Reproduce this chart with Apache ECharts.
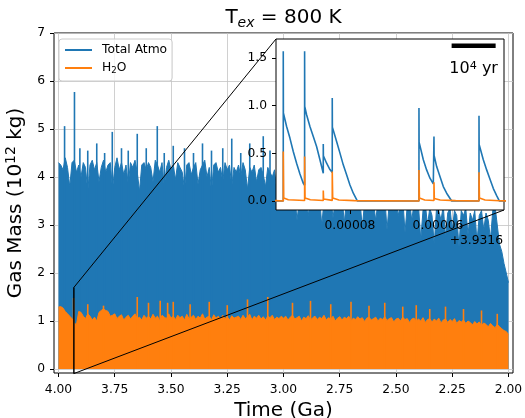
<!DOCTYPE html>
<html><head><meta charset="utf-8">
<script src="https://cdn.jsdelivr.net/npm/echarts@6/dist/echarts.min.js"></script>
<style>html,body{margin:0;padding:0;background:#fff}#c{width:525px;height:418px}</style>
</head><body><div id="c"></div>
<script>
const FONT = 'DejaVu Sans';
const BLUE = '#1f77b4', ORANGE = '#ff7f0e';

// ---- main panel: sample times (Ga), every 0.01 Ga from 4.00 to 2.00
const mainTimes = [];
for (let i = 0; i <= 200; i++) mainTimes.push(+(4 - 0.01 * i).toFixed(2));

// upper envelope of Total Atmo (1e12 kg)
const atmoTop = [
 4.3,4.25,4.15,4.4,4.2,3.8,4.3,4.35,4.1,4.25, 4.0,4.3,4.2,3.7,4.25,4.35,4.15,4.3,3.9,4.2,
 4.35,4.1,4.25,4.3,3.75,4.2,4.4,4.15,4.3,4.05, 4.25,3.85,4.3,4.2,4.35,4.1,3.7,4.25,4.3,4.15,
 4.3,4.2,3.9,4.35,4.25,4.1,4.3,3.8,4.2,4.35, 4.15,4.25,3.95,4.3,4.2,4.1,3.75,4.25,4.3,4.05,
 4.2,4.3,3.85,4.15,4.25,4.35,4.0,4.2,3.7,4.25, 4.3,4.1,4.2,3.9,4.3,4.15,4.25,3.8,4.2,4.1,
 4.25,4.0,4.3,4.15,3.75,4.2,4.1,4.25,3.9,4.15, 4.2,4.05,3.8,4.2,4.1,4.0,4.15,3.7,4.05,3.9,
 3.6,3.4,3.7,3.3,3.55,3.65,3.1,3.5,3.6,3.45, 3.7,3.2,3.55,3.5,3.65,3.3,3.6,3.0,3.5,3.55,
 3.4,3.6,3.15,3.5,3.55,3.45,3.6,3.05,3.5,3.4, 3.55,3.25,3.6,3.45,3.5,2.95,3.45,3.55,3.3,3.5,
 3.45,3.1,3.5,3.55,3.35,3.6,2.9,3.45,3.5,3.3, 3.5,3.2,3.45,3.55,2.85,3.4,3.5,3.1,3.45,3.3,
 3.4,2.7,3.3,3.45,3.0,3.35,3.2,2.6,3.35,3.3, 3.1,3.4,2.75,3.25,3.35,2.9,3.3,3.2,2.55,3.3,
 3.2,3.35,2.8,3.25,3.1,3.3,2.65,3.2,3.3,2.9, 3.25,3.1,2.7,3.3,3.4,3.0,2.6,2.45,2.2,2.0,1.8
];
// upper envelope of H2O
const h2oTop = [
 1.29,1.3,1.27,1.2,1.15,1.1,1.05,0.95,0.93,1.2, 1.18,1.1,1.05,1.15,1.1,1.02,1.08,1.0,1.18,1.22,
 1.25,1.22,1.2,1.1,1.12,1.15,1.05,1.1,1.13,1.02, 1.08,1.12,1.04,1.1,1.15,1.05,1.08,1.02,1.12,1.06,
 1.1,1.04,1.14,1.06,1.1,1.0,1.12,1.08,1.05,1.15, 1.06,1.1,1.03,1.12,1.07,1.1,1.02,1.14,1.05,1.08,
 1.12,1.03,1.1,1.06,1.15,1.04,1.08,1.1,1.02,1.13, 1.06,1.1,1.04,1.12,1.05,1.09,1.02,1.11,1.06,1.08,
 1.1,1.03,1.12,1.05,1.08,1.14,1.02,1.1,1.06,1.12, 1.04,1.09,1.02,1.1,1.07,1.12,1.03,1.08,1.05,1.1,
 1.06,1.1,1.02,1.08,1.12,1.04,1.07,1.1,1.0,1.08, 1.05,1.11,1.02,1.07,1.1,1.03,1.08,1.05,1.12,1.02,
 1.07,1.04,1.1,1.0,1.06,1.09,1.02,1.08,1.05,1.1, 1.0,1.06,1.03,1.09,1.04,1.07,0.99,1.06,1.08,1.02,
 1.05,1.08,1.0,1.06,1.03,1.09,1.01,1.05,1.07,0.98, 1.04,1.06,1.0,1.08,1.03,1.05,0.97,1.04,1.06,1.0,
 1.04,1.0,1.07,0.97,1.03,1.05,0.98,1.04,1.0,1.06, 0.96,1.02,1.04,0.97,1.03,0.99,1.05,0.95,1.01,0.98,
 1.02,0.95,1.0,0.97,0.92,0.99,0.94,0.98,0.9,0.96, 0.93,0.88,0.95,0.9,0.86,0.93,0.88,0.84,0.8,0.78,0.72
];
// isolated tall spikes [time Ga, value]
const atmoSpikes = [
 [3.973,5.06],[3.929,5.77],[3.905,4.6],[3.87,4.55],[3.83,4.7],[3.795,4.5],
 [3.761,4.94],[3.72,4.6],[3.69,4.55],[3.650,4.9],[3.61,4.6],[3.561,5.06],
 [3.53,4.5],[3.49,4.65],[3.44,4.6],[3.40,4.5],[3.36,4.7],[3.32,4.55],
 [3.27,4.6],[3.23,4.8],[3.19,4.5],[3.15,4.7],[3.09,4.85],[3.06,4.55]
];
const h2oSpikes = [
 [3.933,1.48],[3.87,1.35],[3.80,1.32],[3.650,1.5],[3.60,1.38],[3.548,1.42],
 [3.515,1.38],[3.49,1.4],[3.415,1.35],[3.33,1.4],[3.25,1.33],[3.16,1.45],
 [3.07,1.5],[2.96,1.38],[2.88,1.42],[2.79,1.35],[2.70,1.4],[2.62,1.32],
 [2.55,1.38],[2.47,1.3],[2.41,1.33],[2.35,1.25],[2.28,1.3],[2.20,1.25],
 [2.12,1.22],[2.05,1.15]
];

// ---- inset: time in units of 1e-5 Ga after offset 3.9316 Ga
const insetOffset = 3.9316;
const insetAtmo = [
 [9.75,0],[9.515,0],[9.515,1.572],[9.512,0.923],[9.439,0.782],[9.364,0.660],[9.288,0.519],
 [9.212,0.396],[9.136,0.284],[9.061,0.186],[9.030,0.165],[9.030,1.572],[9.027,0.993],
 [8.985,0.905],[8.909,0.782],[8.833,0.677],[8.758,0.572],[8.682,0.432],[8.606,0.291],
 [8.606,0.597],[8.603,0.474],[8.530,0.396],[8.455,0.330],[8.402,0.30],[8.402,1.081],
 [8.399,0.775],[8.303,0.625],[8.227,0.502],[8.152,0.379],[8.076,0.274],[8.000,0.168],
 [7.924,0.081],[7.833,0],[6.432,0],[6.432,0.976],[6.429,0.618],[6.333,0.432],[6.258,0.326],
 [6.182,0.239],[6.106,0.179],[6.091,0.172],[6.091,0.677],[6.088,0.477],[6.030,0.361],
 [5.955,0.256],[5.879,0.151],[5.803,0.081],[5.689,0],[5.068,0],[5.068,0.895],[5.065,0.593],
 [4.970,0.432],[4.894,0.326],[4.818,0.228],[4.742,0.130],[4.667,0.056],[4.606,0],[4.40,0]
];
const insetH2O = [
 [9.75,0.004],[9.515,0],[9.515,0.519],[9.505,0.03],[9.40,0.012],[9.030,0.004],
 [9.030,0.467],[9.020,0.03],[8.90,0.012],[8.606,0.005],[8.606,0.109],[8.598,0.02],
 [8.402,0.006],[8.402,0.309],[8.392,0.03],[8.25,0.01],[7.9,0.003],[6.432,0],
 [6.432,0.326],[6.422,0.03],[6.30,0.01],[6.091,0.005],[6.091,0.196],[6.083,0.025],
 [5.95,0.01],[5.6,0.003],[5.068,0],[5.068,0.302],[5.058,0.03],[4.93,0.01],[4.6,0.002],[4.40,0]
];

// ---- axes
const xTicks = [2.00,2.25,2.50,2.75,3.00,3.25,3.50,3.75,4.00];
const yTicks = [0,1,2,3,4,5,6,7];
const insetXTicks = [6, 8];
const insetYTicks = [0, 0.5, 1.0, 1.5];
const mainX = [1.98, 4.02], mainY = [-0.083, 7];
const insetX = [4.5, 9.68], insetY = [-0.095, 1.70];
const scaleBar = {start: 5.69, length: 1.0, y: 1.628, label: '10{sup|4} yr'}; // 1 unit = 1e-5 Ga = 1e4 yr

const chart = echarts.init(document.getElementById('c'), null, {renderer: 'canvas'});
const tickStyle = {fontFamily: FONT, fontSize: 12.3, color: '#000'};

chart.setOption({
  animation: false,
  grid: [
    {left: 54, top: 33, width: 459, height: 340, show: true, borderColor: '#000', borderWidth: 1,
     backgroundColor: 'transparent', z: 0, containLabel: false, outerBoundsMode: 'none'},
    {left: 276, top: 39, width: 228, height: 171, show: true, borderColor: '#000', borderWidth: 1,
     backgroundColor: '#fff', z: 10, containLabel: false, outerBoundsMode: 'none'}
  ],
  xAxis: [
    {gridIndex: 0, type: 'value', min: mainX[0], max: mainX[1], inverse: true,
     axisLine: {show: false, onZero: false},
     axisTick: {show: true, customValues: xTicks, length: 4, lineStyle: {color: '#000', width: 1}},
     axisLabel: Object.assign({customValues: xTicks, formatter: v => v.toFixed(2), margin: 11}, tickStyle),
     splitLine: {show: true, lineStyle: {color: '#c4c4c4', width: 0.8}},
     name: 'Time (Ga)', nameLocation: 'middle', nameGap: 26,
     nameTextStyle: {fontFamily: FONT, fontSize: 20, color: '#000'}},
    {gridIndex: 1, type: 'value', min: insetX[0], max: insetX[1], inverse: true, z: 11,
     axisLine: {show: false, onZero: false},
     axisTick: {show: true, customValues: insetXTicks, length: 4, lineStyle: {color: '#000', width: 1}},
     axisLabel: Object.assign({customValues: insetXTicks, formatter: v => (v * 1e-5).toFixed(5), margin: 10}, tickStyle),
     splitLine: {show: false}}
  ],
  yAxis: [
    {gridIndex: 0, type: 'value', min: mainY[0], max: mainY[1],
     axisLine: {show: false, onZero: false},
     axisTick: {show: true, customValues: yTicks, length: 4, lineStyle: {color: '#000', width: 1}},
     axisLabel: Object.assign({customValues: yTicks, formatter: v => String(v), margin: 9}, tickStyle),
     splitLine: {show: true, lineStyle: {color: '#c4c4c4', width: 0.8}},
     name: '{m|Gas Mass (10}{s|12}{m| kg)}', nameLocation: 'middle', nameGap: 18,
     nameTextStyle: {fontFamily: FONT, color: '#000', rich: {
       m: {fontFamily: FONT, fontSize: 20, lineHeight: 24, color: '#000'},
       s: {fontFamily: FONT, fontSize: 14, lineHeight: 12, verticalAlign: 'top', color: '#000'}}}},
    {gridIndex: 1, type: 'value', min: insetY[0], max: insetY[1], z: 11,
     axisLine: {show: false, onZero: false},
     axisTick: {show: true, customValues: insetYTicks, length: 4, lineStyle: {color: '#000', width: 1}},
     axisLabel: Object.assign({customValues: insetYTicks, formatter: v => v.toFixed(1), margin: 9}, tickStyle),
     splitLine: {show: false}}
  ],
  legend: {
    left: 59, top: 39, orient: 'vertical', itemWidth: 27, itemHeight: 2, itemGap: 4,
    padding: [4, 5, 6, 6], backgroundColor: 'rgba(255,255,255,0.8)', borderColor: '#cccccc',
    borderWidth: 1, borderRadius: 3, selectedMode: false, z: 20,
    data: [{name: 'Total Atmo', icon: 'rect'}, {name: 'H2O', icon: 'rect'}],
    formatter: n => n === 'H2O' ? 'H{sub|2}O' : n,
    textStyle: {fontFamily: FONT, fontSize: 12.3, color: '#000', lineHeight: 14, padding: [0, 0, 0, 5],
      rich: {sub: {fontFamily: FONT, fontSize: 8.6, lineHeight: 8, verticalAlign: 'bottom', color: '#000'}}}
  },
  series: [
    {name: 'Total Atmo', type: 'line', xAxisIndex: 0, yAxisIndex: 0, z: 2, showSymbol: false, silent: true,
     data: mainTimes.map((t, i) => [t, atmoTop[i]]),
     lineStyle: {color: BLUE, width: 1}, itemStyle: {color: BLUE}, areaStyle: {color: BLUE, opacity: 1}},
    {name: 'atmo spikes', type: 'bar', xAxisIndex: 0, yAxisIndex: 0, z: 2, barWidth: 1.6, barGap: '-100%', silent: true,
     data: atmoSpikes, itemStyle: {color: BLUE}},
    {name: 'H2O', type: 'line', xAxisIndex: 0, yAxisIndex: 0, z: 3, showSymbol: false, silent: true,
     data: mainTimes.map((t, i) => [t, h2oTop[i]]),
     lineStyle: {color: ORANGE, width: 1}, itemStyle: {color: ORANGE}, areaStyle: {color: ORANGE, opacity: 1}},
    {name: 'h2o spikes', type: 'bar', xAxisIndex: 0, yAxisIndex: 0, z: 3, barWidth: 1.6, barGap: '-100%', silent: true,
     data: h2oSpikes, itemStyle: {color: ORANGE}},
    {name: 'Total Atmo inset', type: 'line', xAxisIndex: 1, yAxisIndex: 1, z: 12, showSymbol: false, silent: true,
     data: insetAtmo, lineStyle: {color: BLUE, width: 1.6}, itemStyle: {color: BLUE}},
    {name: 'H2O inset', type: 'line', xAxisIndex: 1, yAxisIndex: 1, z: 13, showSymbol: false, silent: true,
     data: insetH2O, lineStyle: {color: ORANGE, width: 1.6}, itemStyle: {color: ORANGE}}
  ]
});

// annotations derived through the library's scales
const px = (g, pt) => chart.convertToPixel({gridIndex: g}, pt);
const tL = insetOffset + insetX[1] * 1e-5, tR = insetOffset + insetX[0] * 1e-5;
const rTL = px(0, [tL, insetY[1]]), rBR = px(0, [tR, insetY[0]]);
const iTL = px(1, [insetX[1], insetY[1]]), iBR = px(1, [insetX[0], insetY[0]]);
const b1 = px(1, [scaleBar.start, scaleBar.y]), b2 = px(1, [scaleBar.start - scaleBar.length, scaleBar.y]);

chart.setOption({
  graphic: [
    {type: 'polyline', z: 5, silent: true,
     shape: {points: [[rTL[0], rTL[1]], [rBR[0], rTL[1]], [rBR[0], rBR[1]], [rTL[0], rBR[1]], [rTL[0], rTL[1]]]},
     style: {stroke: '#000', lineWidth: 1, fill: null}},
    {type: 'line', z: 5, silent: true, shape: {x1: rTL[0], y1: rTL[1], x2: iTL[0], y2: iTL[1]}, style: {stroke: '#000', lineWidth: 1}},
    {type: 'line', z: 5, silent: true, shape: {x1: rBR[0], y1: rBR[1], x2: iBR[0], y2: iBR[1]}, style: {stroke: '#000', lineWidth: 1}},
    {type: 'line', z: 30, silent: true, shape: {x1: b1[0], y1: b1[1], x2: b2[0], y2: b2[1]}, style: {stroke: '#000', lineWidth: 4.5}},
    {type: 'text', z: 30, silent: true, x: (b1[0] + b2[0]) / 2, y: b1[1] + 23,
     style: {text: scaleBar.label, align: 'center', verticalAlign: 'middle', fill: '#000',
       font: '16px "DejaVu Sans"',
       rich: {sup: {fontFamily: FONT, fontSize: 11.2, lineHeight: 10, verticalAlign: 'top', fill: '#000'}}}},
    {type: 'text', z: 30, silent: true, x: iBR[0] - 1, y: iBR[1] + 31,
     style: {text: '+' + insetOffset.toFixed(4), align: 'right', verticalAlign: 'middle', fill: '#000',
       font: '12.3px "DejaVu Sans"'}},
    {type: 'text', z: 30, silent: true, x: 283.5, y: 18,
     style: {text: '{m|T}{s|ex}{m| = 800 K}', align: 'center', verticalAlign: 'middle', fill: '#000',
       rich: {m: {fontFamily: FONT, fontSize: 20, lineHeight: 24, fill: '#000'},
              s: {fontFamily: FONT, fontSize: 14, fontStyle: 'italic', lineHeight: 12, verticalAlign: 'bottom', fill: '#000'}}}}
  ]
});
</script></body></html>
